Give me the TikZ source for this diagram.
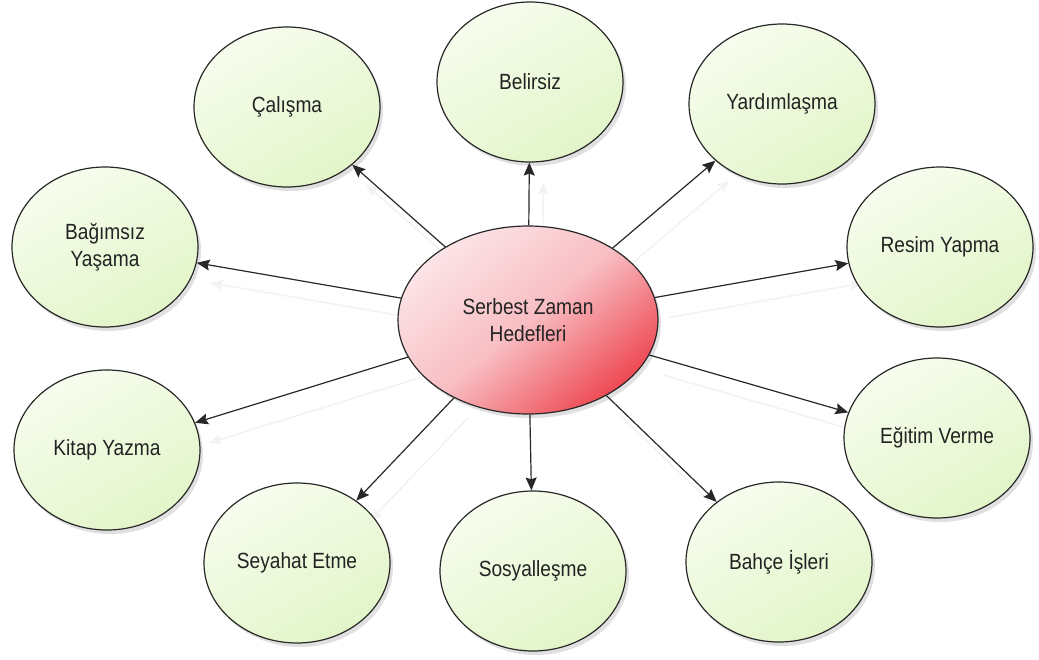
\documentclass[tikz,border=0pt]{standalone}
\usepackage{fontspec}
\setmainfont{Liberation Sans}[FakeStretch=0.87]
\usetikzlibrary{shapes.geometric,arrows.meta,shadows}
\pgfdeclarelayer{bg}
\pgfsetlayers{bg,main}
\definecolor{greenL}{RGB}{247,253,238}
\definecolor{greenD}{RGB}{226,245,200}
\definecolor{pinkL}{RGB}{252,228,231}
\definecolor{pinkM}{RGB}{248,190,195}
\definecolor{pinkD}{RGB}{238,72,82}
\definecolor{txt}{RGB}{35,35,35}
\definecolor{edge}{RGB}{40,40,40}
\begin{document}
\begin{tikzpicture}[x=1pt,y=-1pt,
  bubble/.style={ellipse, draw=edge, line width=1.2pt, inner sep=0pt,
    text=txt, align=center, font=\fontsize{22}{27}\selectfont,
    drop shadow={shadow xshift=3pt, shadow yshift=-4pt, opacity=0.12, fill=black}},
  leaf/.style={bubble, minimum width=186pt, minimum height=160pt,
    top color=greenL, bottom color=greenD, shading angle=30},
  hub/.style={bubble, minimum width=260pt, minimum height=188pt,
    top color=pinkL, bottom color=pinkD, middle color=pinkM, shading angle=40},
  link/.style={draw=edge, line width=1.2pt, -{Stealth[length=13pt,width=11pt,inset=2pt]}},
  ghost/.style={draw=black!5, line width=1.4pt, -{Stealth[length=12pt,width=10pt,inset=2pt]},
    transform canvas={shift={(14,20)}}}]
\useasboundingbox (0,0) rectangle (1039,659);

\node[hub]  (hub) at (528,320) {Serbest Zaman\\Hedefleri};
\node[leaf] (bel) at (530,82)  {Belirsiz};
\node[leaf] (cal) at (287,107) {Çalışma};
\node[leaf] (yar) at (782,104) {Yardımlaşma};
\node[leaf] (bag) at (105,247) {Bağımsız\\Yaşama};
\node[leaf] (res) at (940,247) {Resim Yapma};
\node[leaf] (kit) at (107,450) {Kitap Yazma};
\node[leaf] (egi) at (937,438) {Eğitim Verme};
\node[leaf] (sey) at (297,563) {Seyahat Etme};
\node[leaf] (sos) at (533,571) {Sosyalleşme};
\node[leaf] (bah) at (779,562) {Bahçe İşleri};

\begin{pgfonlayer}{bg}
\fill[white] (0,0) rectangle (1039,659);
\foreach \t in {bel,cal,yar,bag,res,kit,egi,sey,bah}{
  \path[ghost] (hub) -- (\t);
}
\end{pgfonlayer}
\foreach \t in {bel,cal,yar,bag,res,kit,egi,sey,sos,bah}{
  \path[link] (hub) -- (\t);
}
\end{tikzpicture}
\end{document}
